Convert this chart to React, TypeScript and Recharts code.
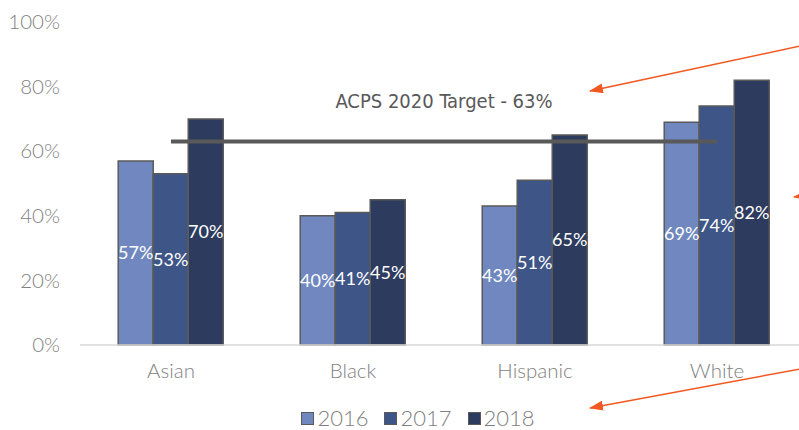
import React from 'react';
import { ComposedChart, Bar, Line, XAxis, YAxis, LabelList, Customized } from 'recharts';

const categories = ['Asian', 'Black', 'Hispanic', 'White'];
const y2016 = [57, 40, 43, 69];
const y2017 = [53, 41, 51, 74];
const y2018 = [70, 45, 65, 82];
const target = 63;
const yTicks = [0, 20, 40, 60, 80, 100];
const seriesNames = ['2016', '2017', '2018'];
const colors = ['#7088BF', '#3E5588', '#2D3B5E'];

const data = categories.map((c, i) => ({
  name: c,
  s2016: y2016[i],
  s2017: y2017[i],
  s2018: y2018[i],
  target,
}));

const tickStyle = { fill: '#7f7f7f', fontSize: 20.5, fontFamily: 'Lato', fontWeight: 300 };

const LegendBox = () => (
  <div style={{ position: 'absolute', left: 0, top: 407, height: 22, width: 836, display: 'flex', justifyContent: 'center', gap: 16, fontFamily: 'Lato', fontWeight: 300, fontSize: 22, color: '#7f7f7f', lineHeight: '22px' }}>
    {seriesNames.map((n, i) => (
      <span key={n} style={{ display: 'flex', alignItems: 'center' }}>
        <span style={{ width: 13, height: 13, background: colors[i], border: '1.5px solid #595959', marginRight: 3, boxSizing: 'border-box' }} />
        {n}
      </span>
    ))}
  </div>
);

const Arrows = () => {
  const c = '#F2581F';
  return (
    <g>
      <defs>
        <marker id="ah" markerWidth="14" markerHeight="10" refX="13" refY="5" orient="auto" markerUnits="userSpaceOnUse">
          <path d="M0,0 L14,5 L0,10 z" fill={c} />
        </marker>
      </defs>
      <line x1={800} y1={46} x2={590} y2={91} stroke={c} strokeWidth={1.5} markerEnd="url(#ah)" />
      <line x1={810} y1={195} x2={794} y2={197} stroke={c} strokeWidth={1.5} markerEnd="url(#ah)" />
      <line x1={800} y1={369} x2={590} y2={408} stroke={c} strokeWidth={1.5} markerEnd="url(#ah)" />
    </g>
  );
};

const TargetLabel = () => (
  <text x={444} y={108} textAnchor="middle" fill="#595959" fontSize={20} fontWeight={500} fontFamily="'Liberation Sans Narrow', 'DejaVu Sans Condensed', sans-serif">
    ACPS 2020 Target - 63%
  </text>
);

export default function App() {
  return (
    <div style={{ position: 'absolute', left: 0, top: 0, width: 799, height: 430, overflow: 'hidden', background: '#fff' }}>
      <ComposedChart width={808} height={430} data={data} margin={{ top: 22, right: 0, left: 0, bottom: 55 }} barCategoryGap="21%" barGap={0}>
        <XAxis dataKey="name" height={30} axisLine={{ stroke: '#d9d9d9', strokeWidth: 1.5 }} tickLine={false} tick={tickStyle} tickMargin={12} />
        <YAxis domain={[0, 100]} ticks={yTicks} width={80} axisLine={false} tickLine={false} tickSize={0} tickMargin={20} tick={tickStyle} tickFormatter={(v) => `${v}%`} />
        {['s2016', 's2017', 's2018'].map((k, i) => (
          <Bar key={k} dataKey={k} name={seriesNames[i]} fill={colors[i]} stroke="#595959" strokeWidth={1.5} isAnimationActive={false}>
            <LabelList dataKey={k} position="center" fill="#fff" fontSize={18} fontFamily="Lato" formatter={(v) => `${v}%`} />
          </Bar>
        ))}
        <Line dataKey="target" stroke="#595959" strokeWidth={4} dot={false} activeDot={false} isAnimationActive={false} legendType="none" />
        <Customized component={TargetLabel} />
        <Customized component={Arrows} />
      </ComposedChart>
      <LegendBox />
    </div>
  );
}
